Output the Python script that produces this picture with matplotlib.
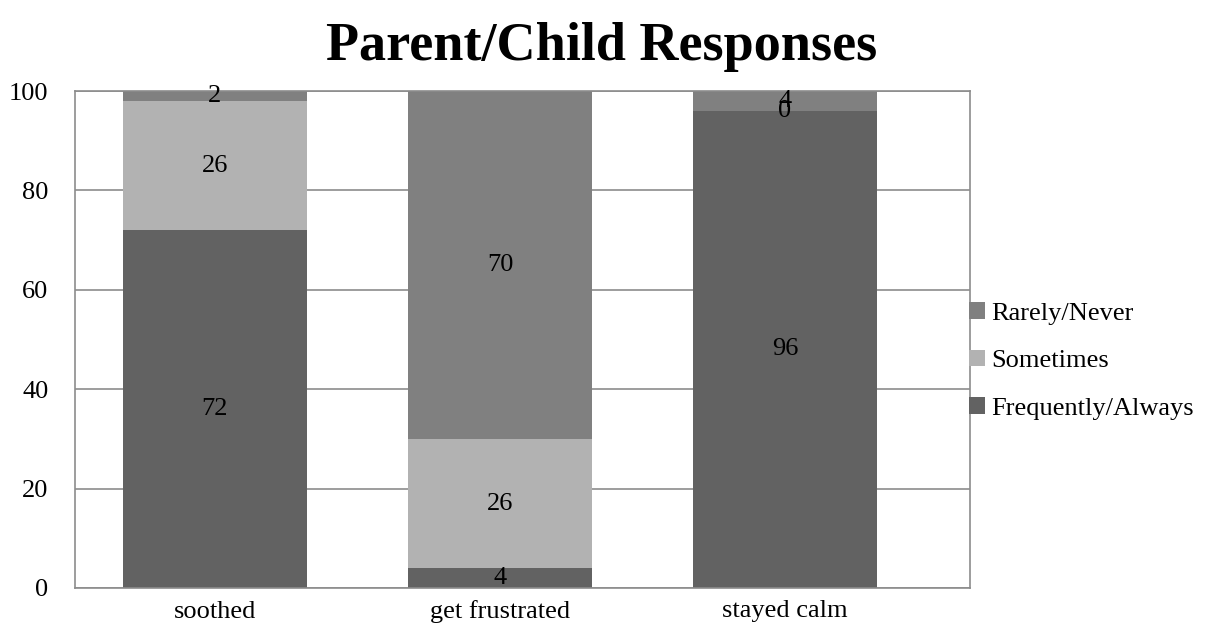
import matplotlib.pyplot as plt
import numpy as np

categories = ['soothed', 'get frustrated', 'stayed calm']
frequently = [72, 4, 96]
sometimes = [26, 26, 0]
rarely = [2, 70, 4]

series = [('Frequently/Always', frequently, '#626262'),
          ('Sometimes', sometimes, '#b2b2b2'),
          ('Rarely/Never', rarely, '#808080')]

plt.rcParams['font.family'] = ['Liberation Serif']

fig = plt.figure(figsize=(12.17, 6.37), dpi=100)
ax = fig.add_axes([75 / 1217, 1 - 588 / 637, 895 / 1217, 497 / 637])

x = np.arange(len(categories))
bottom = np.zeros(len(categories))
handles = []
for name, vals, color in series:
    bars = ax.bar(x, vals, width=0.646, bottom=bottom, color=color, label=name, zorder=2)
    handles.append(bars)
    for xi, b, v in zip(x, bottom, vals):
        ax.text(xi, b + v / 2, str(v), ha='center', va='center', fontsize=19, zorder=3)
    bottom += np.array(vals)

ax.set_xlim(-0.491, 2.649)
ax.set_ylim(0, 100)
ax.set_yticks(range(0, 101, 20))
ax.set_xticks(x)
ax.set_xticklabels(categories)
ax.tick_params(length=0, labelsize=19)
ax.tick_params(axis='y', pad=19)
ax.tick_params(axis='x', pad=9)
ax.grid(axis='y', color='#8c8c8c', linewidth=1.2, zorder=0)
for s in ax.spines.values():
    s.set_color('#8c8c8c')
    s.set_linewidth(1.2)

fig.text(602 / 1217, 1 - 47 / 637, 'Parent/Child Responses', ha='center', va='center',
         fontsize=39, fontweight='bold')

fig.legend(handles[::-1], [s[0] for s in series][::-1], loc='center left',
           bbox_to_anchor=(945 / 1217, 1 - 361 / 637), frameon=False, fontsize=19,
           handlelength=0.6, handleheight=0.6, handletextpad=0.25, labelspacing=0.95)

fig.savefig('out.png', dpi=100)
